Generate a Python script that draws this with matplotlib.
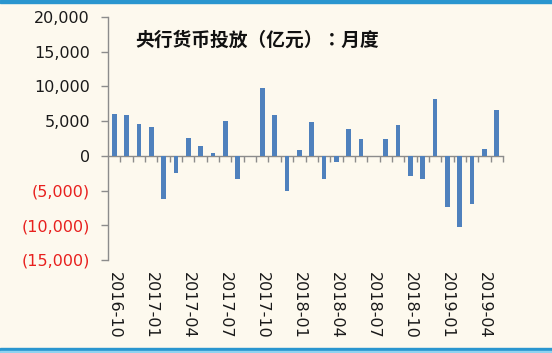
import numpy as np
import pandas as pd
import matplotlib
matplotlib.use('Agg')
import matplotlib.pyplot as plt
from matplotlib.patches import Rectangle

plt.rcParams['font.family'] = ['DejaVu Sans']

# 央行货币投放（亿元）月度, 2016-10 .. 2019-05
months = [p.strftime('%Y-%m') for p in pd.period_range('2016-10', periods=32, freq='M')]
values = [5960, 5870, 4520, 4180, -6250, -2400, 2550, 1490, 480, 4950,
          -3270, 0, 9710, 5870, -5050, 870, 4860, -3270, -820, 3940,
          2450, 0, 2450, 4420, -2880, -3270, 8170, -7360, -10240, -6970,
          1010, 6540]
yticks = [-15000, -10000, -5000, 0, 5000, 10000, 15000, 20000]

bg = '#FDF9EE'
bar_color = '#4F81BD'
axis_gray = '#8C8C8C'

fig = plt.figure(figsize=(5.52, 3.53), dpi=100, facecolor=bg)
# blue frame lines top and bottom
fig.patches.append(Rectangle((0, 1 - 3/353), 1, 3/353, transform=fig.transFigure,
                             color='#2A96CF', zorder=0))
fig.patches.append(Rectangle((0, 2/353), 1, 3/353, transform=fig.transFigure,
                             color='#2A96CF', zorder=0))
fig.patches.append(Rectangle((0, 0), 1, 2/353, transform=fig.transFigure,
                             color='#8FD3F0', zorder=0))

ax = fig.add_axes([108/552, 1 - 260/353, 395/552, 243/353])
ax.set_facecolor(bg)

x = np.arange(len(months))
ax.bar(x, values, width=0.38, color=bar_color, zorder=3)

ax.set_xlim(-0.5, len(months) - 0.5)
ax.set_ylim(-15000, 20000)

for s in ['top', 'right']:
    ax.spines[s].set_visible(False)
ax.spines['left'].set_color(axis_gray)
ax.spines['left'].set_linewidth(1.0)
ax.spines['bottom'].set_position(('data', 0))
ax.spines['bottom'].set_color(axis_gray)
ax.spines['bottom'].set_linewidth(1.0)

# category ticks on the zero line
ax.set_xticks(np.arange(len(months)) + 0.5)
ax.set_xticklabels([])
ax.tick_params(axis='x', direction='out', length=4, width=1.0, color=axis_gray)

# labels at the bottom of the plot area
sec = ax.secondary_xaxis('bottom')
sec.spines['bottom'].set_visible(False)
sec.set_xticks(x[::3])
sec.set_xticklabels(months[::3], rotation=270, fontsize=11.5, color='#1a1a1a')
sec.tick_params(axis='x', length=0, pad=9)

ax.set_yticks(yticks)
ylabels = []
for v in yticks:
    if v < 0:
        ylabels.append('({:,})'.format(-v))
    else:
        ylabels.append('{:,}'.format(v))
ax.set_yticklabels(ylabels, fontsize=11.5)
for lab, v in zip(ax.get_yticklabels(), yticks):
    lab.set_color('#E8201E' if v < 0 else '#1a1a1a')
ax.tick_params(axis='y', direction='out', length=5, width=1.0, color=axis_gray, pad=8)

fig.text(135/552, 1 - 40/353, '央行货币投放（亿元）：月度', fontsize=13.5, fontweight='bold',
         family=['Noto Sans CJK TC', 'DejaVu Sans'], ha='left', va='center', color='#111111')

fig.savefig('out.png', dpi=100, facecolor=bg)
